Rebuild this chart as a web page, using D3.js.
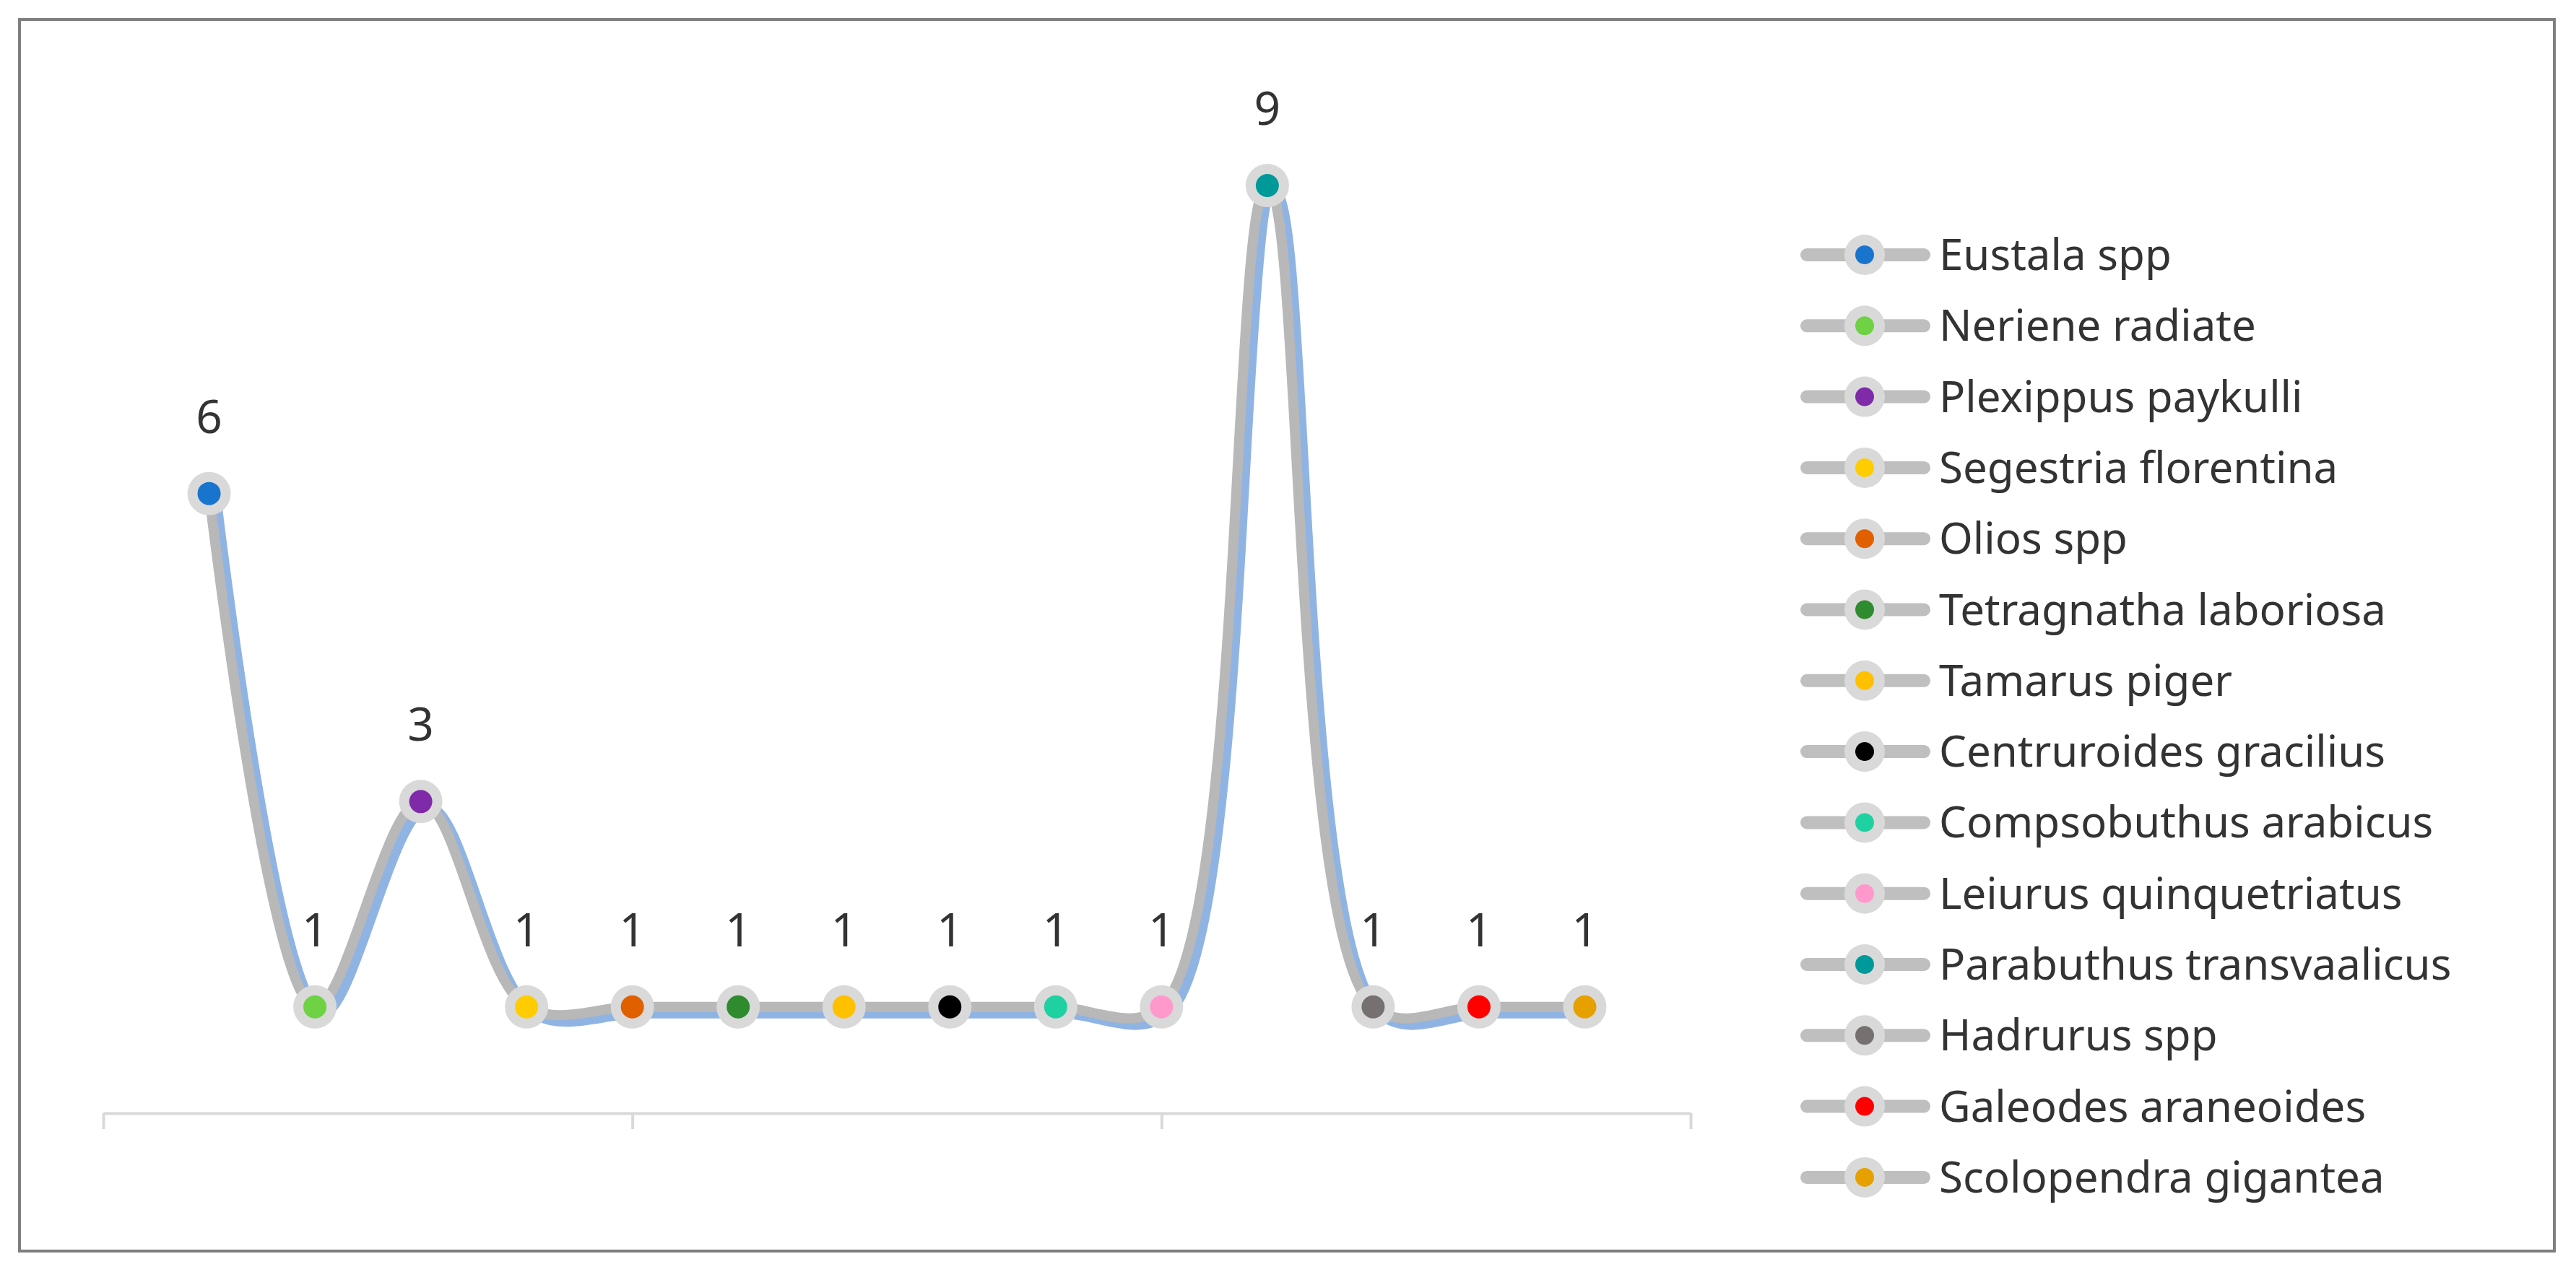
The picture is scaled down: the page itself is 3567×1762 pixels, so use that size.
<!DOCTYPE html>
<html>
<head>
<meta charset="utf-8">
<script src="https://cdn.jsdelivr.net/npm/d3@7"></script>
<style>
  body { margin: 0; background: #fff; }
  text { font-family: "Noto Sans", sans-serif; fill: #333; }
</style>
</head>
<body>
<svg id="chart" width="3567" height="1762"></svg>
<script>
const species = [
  "Eustala spp", "Neriene radiate", "Plexippus paykulli", "Segestria florentina",
  "Olios spp", "Tetragnatha laboriosa", "Tamarus piger", "Centruroides gracilius",
  "Compsobuthus arabicus", "Leiurus quinquetriatus", "Parabuthus transvaalicus",
  "Hadrurus spp", "Galeodes araneoides", "Scolopendra gigantea"
];
const counts = [6, 1, 3, 1, 1, 1, 1, 1, 1, 1, 9, 1, 1, 1];
const colors = [
  "#1874cd", "#6fd144", "#7f2aa8", "#ffcc00", "#e06000", "#2e8b2e", "#ffc000",
  "#000000", "#1fd1a0", "#ff99cc", "#009999", "#777070", "#ff0000", "#e6a000"
];
const xTicks = [0, 5, 10, 15];

const svg = d3.select("#chart");

// outer frame
svg.append("rect")
  .attr("x", 27).attr("y", 27).attr("width", 3510).attr("height", 1706)
  .attr("fill", "none").attr("stroke", "#7f7f7f").attr("stroke-width", 4);

const x = d3.scaleLinear().domain([0, 15]).range([143, 2341]);
const y = d3.scaleLinear().domain([0, 9]).range([1537, 257]);

// axis
const axis = d3.axisBottom(x).tickValues(xTicks).tickFormat("").tickSize(22).tickSizeOuter(0);
const ag = svg.append("g").attr("transform", "translate(0,1542)").call(axis);
ag.selectAll("path, line").attr("stroke", "#d9d9d9").attr("stroke-width", 4);

const pts = counts.map((v, i) => ({ v, i, name: species[i], color: colors[i] }));
const line = d3.line()
  .x(d => x(d.i + 1))
  .y(d => y(d.v))
  .curve(d3.curveCatmullRom.alpha(0.5));

// blue shadow then gray line
svg.append("path").datum(pts)
  .attr("d", line)
  .attr("transform", "translate(9,8)")
  .attr("fill", "none").attr("stroke", "#8fb4e3").attr("stroke-width", 16);
svg.append("path").datum(pts)
  .attr("d", line)
  .attr("fill", "none").attr("stroke", "#b8b8b8").attr("stroke-width", 14);

const mk = svg.append("g").selectAll("g").data(pts).join("g")
  .attr("transform", d => `translate(${x(d.i + 1)},${y(d.v)})`);
mk.append("circle").attr("r", 30).attr("fill", "#d9d9d9");
mk.append("circle").attr("r", 16).attr("fill", d => d.color);
mk.append("text")
  .attr("y", -84)
  .attr("text-anchor", "middle")
  .attr("font-size", 64)
  .text(d => d.v);

// legend
const lg = svg.append("g").selectAll("g").data(pts).join("g")
  .attr("transform", (d, i) => `translate(2582,${353 + i * 98.3})`);
lg.append("line")
  .attr("x1", -80).attr("x2", 82)
  .attr("stroke", "#bfbfbf").attr("stroke-width", 18).attr("stroke-linecap", "round");
lg.append("circle").attr("r", 28).attr("fill", "#d9d9d9");
lg.append("circle").attr("r", 13).attr("fill", d => d.color);
lg.append("text")
  .attr("x", 103).attr("dy", "0.35em")
  .attr("font-size", 60)
  .text(d => d.name);
</script>
</body>
</html>
